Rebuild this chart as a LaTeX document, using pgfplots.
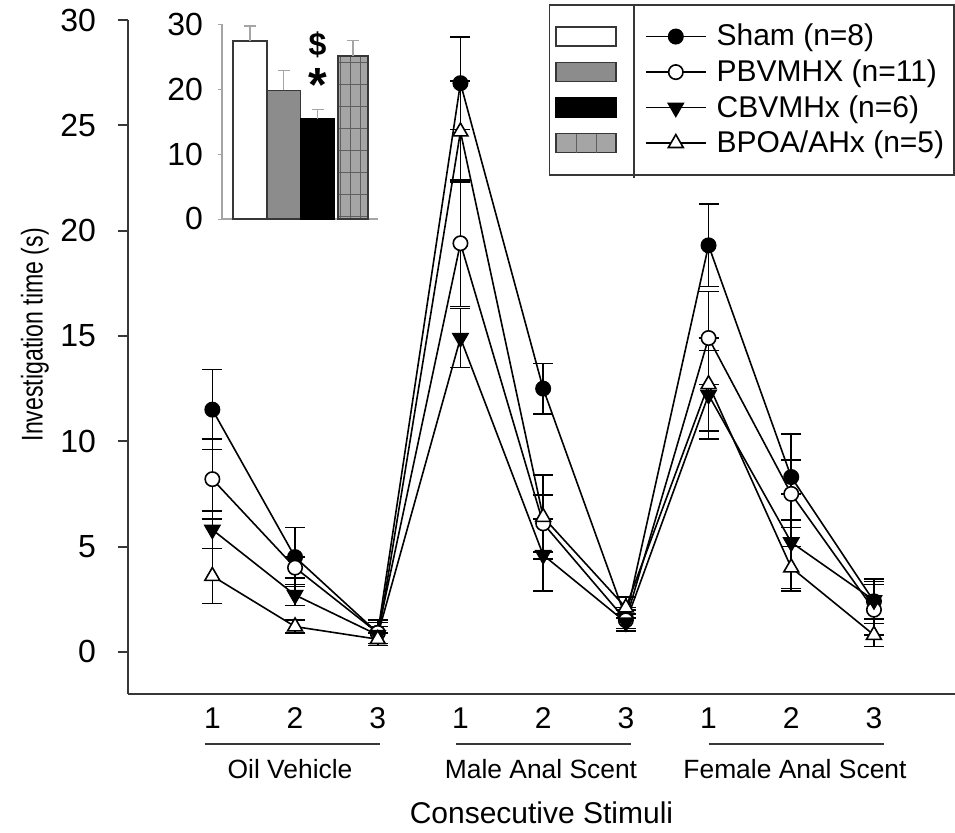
\documentclass[border=0pt]{standalone}
\usepackage{pgfplots}
\pgfplotsset{compat=1.18}
\usepackage{pgfplotstable}
\usepackage{fontspec}
\setmainfont{Liberation Sans}
\usetikzlibrary{patterns.meta}
\definecolor{axgray}{RGB}{55,55,55}
\definecolor{bargray}{RGB}{140,140,140}
\definecolor{gridfill}{RGB}{165,165,165}
\definecolor{gridline}{RGB}{95,95,95}
\definecolor{insetax}{RGB}{165,165,165}

\pgfplotstableread{
x y e
1 11.5 1.9
2 4.5 1.4
3 0.9 0.6
4 27.0 2.2
5 12.5 1.2
6 1.6 0.5
7 19.3 1.95
8 8.3 2.05
9 2.4 1.05
}\sham
\pgfplotstableread{
x y e
1 8.2 1.9
2 4.0 0.5
3 0.9 0.5
4 19.4 3.0
5 6.1 1.35
6 1.5 0.5
7 14.9 2.2
8 7.5 1.6
9 2.0 1.2
}\pbv
\pgfplotstableread{
x y e
1 5.8 0.9
2 2.7 0.5
3 0.8 0.4
4 14.9 1.4
5 4.6 1.7
6 1.4 0.4
7 12.2 2.1
8 5.2 2.3
9 2.45 0.9
}\cbv
\pgfplotstableread{
x y e
1 3.6 1.3
2 1.2 0.3
3 0.6 0.3
4 24.7 2.4
5 6.4 2.0
6 2.1 0.5
7 12.7 2.2
8 4.0 1.0
9 0.8 0.55
}\bpoa

\pgfplotsset{
 lineimg/.style={legend image code/.code={\draw[mark repeat=2,mark phase=2,##1] plot coordinates {(0pt,0pt) (15pt,0pt) (30pt,0pt)};}},
 barimg/.style={legend image code/.code={\draw[##1] (0pt,-4.75pt) rectangle (30pt,4.75pt);}},
 gridimg/.style={legend image code/.code={\draw[##1] (0pt,-4.75pt) rectangle (30pt,4.75pt); \draw[gridline, line width=0.5pt] (10pt,-4.75pt) -- (10pt,4.75pt) (20pt,-4.75pt) -- (20pt,4.75pt);}},
 series/.style={black, line width=0.8pt, lineimg,
   error bars/y dir=both, error bars/y explicit,
   error bars/error bar style={line width=0.8pt, black},
   error bars/error mark options={rotate=90, mark size=5pt, line width=0.8pt, black}},
 inseterr/.style={error bars/y dir=plus, error bars/y explicit,
   error bars/error bar style={insetax, line width=0.6pt},
   error bars/error mark options={rotate=90, mark size=3pt, insetax, line width=0.6pt}},
}

\begin{document}
\begin{tikzpicture}
\useasboundingbox (-64pt,-69.5pt) rectangle (413.5pt,347pt);
\begin{axis}[
 scale only axis, width=413.5pt, height=337pt,
 xmin=-0.02, xmax=9.98, ymin=-2, ymax=30,
 axis lines*=left, axis line style={axgray, line width=1pt},
 xtick={1,...,9}, xticklabels={1,2,3,1,2,3,1,2,3},
 ytick={0,5,...,30},
 tick align=outside, major tick length=5pt,
 xtick style={draw=none}, ytick style={axgray, line width=1pt},
 xticklabel style={font=\fontsize{15}{18}\selectfont, text height=10.7pt, text depth=0pt, anchor=north, yshift=2pt},
 yticklabel style={font=\fontsize{16}{19}\selectfont, xshift=-7.5pt},
 /pgf/number format/assume math mode=true,
 xlabel={Consecutive Stimuli}, ylabel={\scalebox{0.77}[1]{Investigation time (s)}},
 xlabel style={font=\fontsize{15}{18}\selectfont, at={(axis description cs:0.5,-0.1766)}, anchor=center},
 ylabel style={font=\fontsize{15}{18}\selectfont, at={(axis description cs:-0.1125,0.533)}, anchor=center},
 clip=false,
 legend columns=2,
 legend cell align=left,
 legend style={at={(1,1)}, anchor=north east, yshift=8pt, draw=axgray, line width=0.8pt, fill=white,
   font=\fontsize{15}{17}\selectfont, inner xsep=3pt, inner ysep=8.5pt, row sep=3pt, nodes={inner ysep=1.2pt},
   /tikz/column 2/.style={column sep=10pt}, /tikz/column 3/.style={column sep=3pt}},
]
\addlegendimage{barimg, fill=white, draw=axgray, line width=0.8pt}
\addlegendentry{}
\addplot[series, mark=*, mark size=3.6pt, mark options={fill=black, solid}] table[x=x, y=y, y error=e] {\sham};
\addlegendentry{Sham (n=8)}
\addlegendimage{barimg, fill=bargray, draw=axgray, line width=0.8pt}
\addlegendentry{}
\addplot[series, mark=*, mark size=3.6pt, mark options={fill=white, solid}] table[x=x, y=y, y error=e] {\pbv};
\addlegendentry{PBVMHX (n=11)}
\addlegendimage{barimg, fill=black, draw=black, line width=0.8pt}
\addlegendentry{}
\addplot[series, mark=triangle*, mark size=4.3pt, mark options={fill=black, rotate=180, solid}] table[x=x, y=y, y error=e] {\cbv};
\addlegendentry{CBVMHx (n=6)}
\addlegendimage{gridimg, fill=gridfill, draw=axgray, line width=0.8pt}
\addlegendentry{}
\addplot[series, mark=triangle*, mark size=4.3pt, mark options={fill=white, solid}] table[x=x, y=y, y error=e] {\bpoa};
\addlegendentry{BPOA/AHx (n=5)}

\draw[axgray, line width=0.7pt] (axis cs:0.911,-4.37) -- (axis cs:3.027,-4.37);
\draw[axgray, line width=0.7pt] (axis cs:3.946,-4.37) -- (axis cs:6.062,-4.37);
\draw[axgray, line width=0.7pt] (axis cs:7.005,-4.37) -- (axis cs:9.122,-4.37);
\node[font=\fontsize{13.2}{15}\selectfont] at (axis cs:1.939,-5.56) {Oil Vehicle};
\node[font=\fontsize{13.2}{15}\selectfont] at (axis cs:4.974,-5.56) {Male Anal Scent};
\node[font=\fontsize{13.2}{15}\selectfont] at (axis cs:8.045,-5.56) {Female Anal Scent};
\end{axis}

\begin{axis}[
 at={(47pt,237.5pt)}, anchor=south west,
 scale only axis, width=78pt, height=97.5pt,
 xmin=0.17, xmax=4.79, ymin=0, ymax=30,
 axis lines*=left, axis line style={insetax, line width=0.6pt},
 xtick=\empty, ytick={0,10,20,30},
 tick align=outside, major tick length=2pt, ytick style={insetax},
 yticklabel style={font=\fontsize{16}{19}\selectfont, xshift=-4pt},
 /pgf/number format/assume math mode=true,
 clip=false,
]
\addplot[ybar, bar shift=0pt, bar width=17pt, fill=white, draw=axgray, line width=0.7pt, inseterr]
  coordinates {(1,27.4) +- (0,2.3)};
\addplot[ybar, bar shift=0pt, bar width=16.5pt, fill=bargray, draw=axgray, line width=0.7pt, inseterr]
  coordinates {(2,19.8) +- (0,3.1)};
\addplot[ybar, bar shift=0pt, bar width=17pt, fill=black, draw=black, line width=0.7pt, inseterr]
  coordinates {(3,15.4) +- (0,1.4)};
\addplot[ybar, bar shift=0pt, bar width=15pt, fill=gridfill, draw=axgray, line width=0.7pt,
  postaction={pattern={Lines[angle=90, distance=5pt, line width=0.5pt]}, pattern color=gridline},
  postaction={pattern={Lines[angle=0, distance=11pt, line width=0.5pt]}, pattern color=gridline},
  inseterr]
  coordinates {(4.05,25.1) +- (0,2.4)};
\node[font=\bfseries\fontsize{16}{18}\selectfont] at (axis cs:3,26.8) {\$};
\node[font=\bfseries\fontsize{24}{26}\selectfont, anchor=north] at (axis cs:3,24.2) {*};
\end{axis}
\draw[axgray, line width=0.8pt] (253pt,344pt) -- (253pt,258pt);
\end{tikzpicture}
\end{document}
